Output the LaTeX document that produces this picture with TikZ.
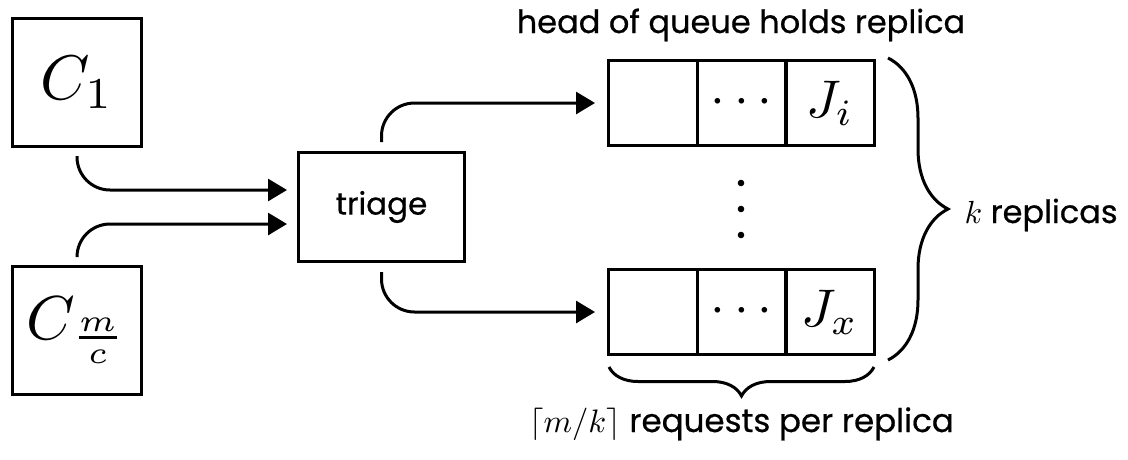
\documentclass[tikz,border=0pt]{standalone}
\usepackage{fontspec}
\setmainfont{Poppins}[FakeBold=0.6]
\usetikzlibrary{arrows.meta,decorations.pathreplacing}
\begin{document}
\begin{tikzpicture}[x=1pt,y=-1pt,
  line width=3pt,
  client/.style={draw,minimum width=129pt,minimum height=128pt,inner sep=0pt},
  triagebox/.style={draw,minimum width=166pt,minimum height=109pt,inner sep=0pt},
  cell/.style={draw,minimum width=89pt,minimum height=85pt,inner sep=0pt},
  arr/.style={-{Triangle[length=19pt,width=22pt]},rounded corners=33pt},
  lbl/.style={inner sep=0pt},
  brc/.style={decorate,decoration={brace,amplitude=#1}}
]
\useasboundingbox (0,0) rectangle (1128,459);
\node[client] (c1) at (77,82.5) {\scalebox{6.3}{$C_1$}};
\node[client] (cm) at (77,330) {\scalebox{6.2}{$C_{\frac{m}{c}}$}};
\node[triagebox] (tr) at (381.5,207) {\scalebox{3.1}{triage}};
\node[cell] (q1a) at (653,103) {};
\node[cell] (q1b) at (741.5,103) {\scalebox{5.3}{$\cdots$}};
\node[cell] (q1c) at (830,103) {\scalebox{5.3}{$J_i$}};
\node[cell] (q2a) at (653,312) {};
\node[cell] (q2b) at (741.5,312) {\scalebox{5.3}{$\cdots$}};
\node[cell] (q2c) at (830,312) {\scalebox{5.3}{$J_x$}};
\fill (741,183) circle (3.3pt) (741,209) circle (3.3pt) (741,235) circle (3.3pt);
\draw[arr,shorten >=10pt] ([yshift=-8pt]c1.south) |- ([yshift=17pt]tr.west);
\draw[arr,shorten >=10pt] ([yshift=8pt]cm.north) |- ([yshift=-17pt]tr.west);
\draw[arr,shorten >=12pt] ([yshift=9pt]tr.north) |- (q1a.west);
\draw[arr,shorten >=12pt] ([yshift=-9pt]tr.south) |- (q2a.west);
\draw[brc=60pt] ([xshift=12pt,yshift=1pt]q1c.north east) -- ([xshift=12pt,yshift=-4pt]q2c.south east)
  node[midway,anchor=base west,xshift=75pt,yshift=-14pt,lbl] (kr) {\scalebox{3.2}{$k$ replicas}};
\draw[brc=29pt] ([xshift=-2pt,yshift=-11pt]q2c.south east) -- ([xshift=2pt,yshift=-11pt]q2a.south west)
  node[midway,anchor=base,yshift=-65pt,lbl] (rq) {\scalebox{3.25}{$\lceil m/k\rceil$ requests per replica}};
\node[lbl,anchor=base] (hd) at (741,33) {\scalebox{3.2}{head of queue holds replica}};
\end{tikzpicture}
\end{document}
